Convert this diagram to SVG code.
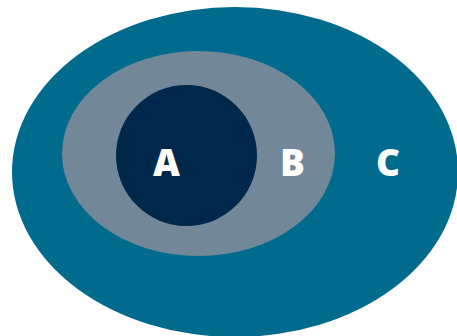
<svg xmlns="http://www.w3.org/2000/svg" width="457" height="336" viewBox="0 0 457 336">
<style>
.lbl{font-family:"Open Sans","Liberation Sans",sans-serif;font-weight:800;font-size:37px;fill:#ffffff;text-anchor:middle}
</style>
<rect width="457" height="336" fill="#ffffff"/>
<g id="C">
<ellipse cx="235" cy="172" rx="223" ry="165" fill="#016b8d"/>
<text class="lbl" x="388" y="176">C</text>
</g>
<g id="B">
<ellipse cx="198.5" cy="153.5" rx="136.5" ry="102.5" fill="#728899"/>
<text class="lbl" x="292.5" y="176">B</text>
</g>
<g id="A">
<circle cx="186.5" cy="155.5" r="70.5" fill="#00284a"/>
<text class="lbl" x="166.5" y="176">A</text>
</g>
<g id="connectors"/>
</svg>
